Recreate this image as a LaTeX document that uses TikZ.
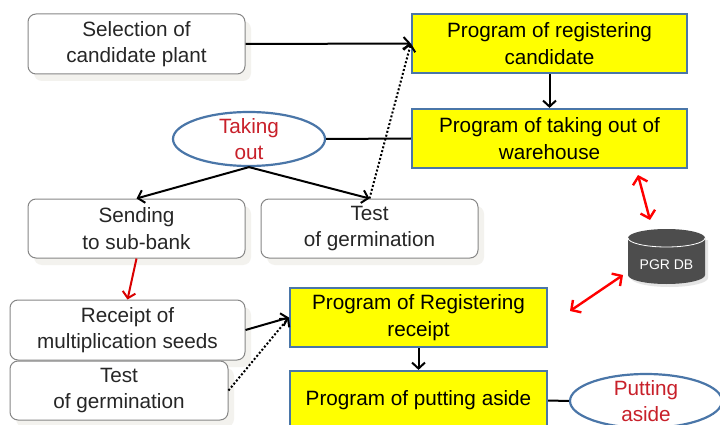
\documentclass[tikz,border=0pt]{standalone}
\usepackage{fontspec}
\setmainfont{Liberation Sans}
\usetikzlibrary{arrows.meta,shadows,shapes.geometric}
\definecolor{bluebd}{HTML}{4A76A8}
\definecolor{redtxt}{HTML}{C8202A}
\definecolor{txtdark}{HTML}{262626}
\definecolor{dbgray}{HTML}{4D4D4D}
\definecolor{shad}{HTML}{F3F2EE}
\definecolor{pureyellow}{RGB}{255,255,0}
\tikzset{
  x=1pt,y=-1pt,
  basefont/.style={font=\fontsize{20.7}{26.5}\selectfont,align=center,inner sep=0pt},
  whitebox/.style={basefont,draw=gray!95,line width=1pt,fill=white,rounded corners=8pt,text=txtdark,
    drop shadow={shadow xshift=6pt,shadow yshift=-7pt,fill=shad,opacity=1}},
  yellowbox/.style={basefont,draw=bluebd,line width=2.2pt,fill=pureyellow,text=black},
  bubble/.style={basefont,ellipse,inner sep=-5pt,draw=bluebd,line width=2.2pt,fill=white,text=redtxt},
  conn/.style={black,line width=2pt,-{Straight Barb[length=6pt,width=13pt]}},
  plain/.style={black,line width=2pt},
  dots/.style={conn,dotted,line width=2pt},
  redconn/.style={line width=2pt,color=red!85!black,-{Straight Barb[length=6pt,width=13pt]}},
  dbl/.style={line width=2.4pt,red,{Straight Barb[length=7pt,width=15pt]}-{Straight Barb[length=7pt,width=15pt]}},
}
\begin{document}
\begin{tikzpicture}
\useasboundingbox (0,0) rectangle (720,425);
\clip (0,0) rectangle (720,425);
\fill[white] (0,0) rectangle (720,425);
\node[whitebox,minimum width=217pt,minimum height=60pt] (sel) at (136.5,44) {Selection of\\candidate plant};
\node[yellowbox,minimum width=275pt,minimum height=59pt] (reg) at (549.5,43.5) {Program of registering\\candidate};
\node[yellowbox,minimum width=275pt,minimum height=59pt] (take) at (549.5,138.5) {Program of taking out of\\warehouse};
\node[bubble,minimum width=152pt,minimum height=54pt] (tout) at (249,139) {Taking\\out};
\node[whitebox,minimum width=217pt,minimum height=59pt] (send) at (136.5,228.5) {Sending\\to sub-bank};
\node[whitebox,minimum width=217pt,minimum height=59pt] (test) at (369.5,228.5) {Test\\of germination};
\node[whitebox,minimum width=235pt,minimum height=60pt] (rec) at (127.5,330) {Receipt of\\multiplication seeds};
\node[whitebox,minimum width=218pt,minimum height=59pt] (testb) at (119,390.5) {Test\\of germination};
\node[yellowbox,minimum width=257pt,minimum height=59pt] (regr) at (418.5,317.5) {Program of Registering\\receipt};
\node[yellowbox,minimum width=257pt,minimum height=59pt] (put) at (418.5,400.5) {Program of putting aside};
\node[bubble,minimum width=152pt,minimum height=54pt] (pout) at (646,401) {Putting\\aside};
% database
\fill[black!10] (631,240) -- (631,278) arc[x radius=38.5,y radius=9,start angle=180,end angle=0] -- (708,240) -- cycle;
\fill[dbgray] (628,238) -- (628,275) arc[x radius=38.5,y radius=9,start angle=180,end angle=0] -- (705,238) arc[x radius=38.5,y radius=9,start angle=0,end angle=-180] -- cycle;
\draw[white,line width=0.8pt] (628,238) arc[x radius=38.5,y radius=9,start angle=180,end angle=0];
\node[font=\fontsize{14}{16}\selectfont,text=white,inner sep=0pt] (db) at (666.5,265) {PGR DB};
\coordinate (dbtop) at (650,220);
\coordinate (taketip) at (638,175);
\coordinate (dbleft) at (623,275);
\coordinate (regtip) at (570,311);
\draw[conn] (sel.east) -- (reg.west);
\draw[dots] (test.north) -- (reg.west);
\draw[conn] (reg.south) -- (take.north);
\draw[plain] (tout.east) -- (take.west);
\draw[conn] (tout.south) -- (send.north);
\draw[conn] (tout.south) -- (test.north);
\draw[redconn] (send.south) -- (rec.north);
\draw[conn] (rec.east) -- (regr.west);
\draw[dots] (testb.east) -- (regr.west);
\draw[conn] (regr.south) -- (put.north);
\draw[plain] (put.east) -- (pout.west);
\draw[dbl] (taketip) -- (dbtop);
\draw[dbl] (regtip) -- (dbleft);
\end{tikzpicture}
\end{document}
